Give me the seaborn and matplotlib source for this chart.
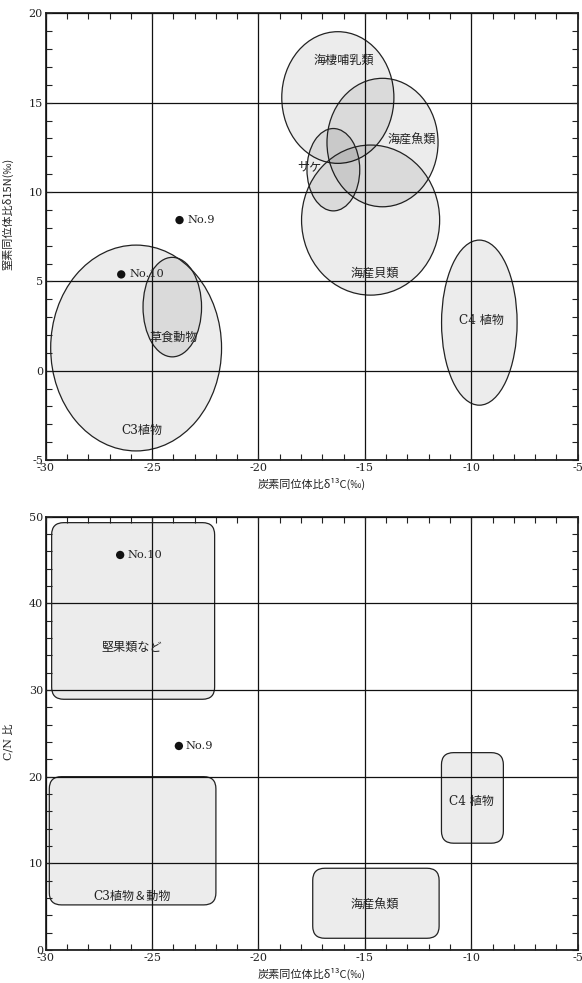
import matplotlib
matplotlib.use("Agg")
import matplotlib.pyplot as plt
from matplotlib.patches import Ellipse, FancyBboxPatch
from matplotlib.ticker import MultipleLocator, FuncFormatter
import pandas as pd
import seaborn as sns

# --- top chart: d13C vs d15N ranges (ellipses) ---
ell_names = ["海棲哺乳類", "海産魚類", "サケ", "海産貝類", "C4 植物", "C3植物", "草食動物"]
ell_cx = [-16.27, -14.17, -16.48, -14.73, -9.62, -25.75, -24.05]
ell_cy = [15.29, 12.77, 11.25, 8.43, 2.69, 1.27, 3.56]
ell_w = [5.27, 5.22, 2.48, 6.49, 3.55, 8.03, 2.75]
ell_h = [7.37, 7.19, 4.61, 8.40, 9.24, 11.52, 5.57]
ell_lx = [-16.01, -12.78, -17.61, -14.55, -9.51, -25.47, -23.98]
ell_ly = [17.39, 12.91, 11.41, 5.48, 2.79, -3.33, 1.86]

top_samples = ["No.9", "No.10"]
top_d13c = [-23.71, -26.45]
top_d15n = [8.43, 5.39]

# --- bottom chart: d13C vs C/N ranges (boxes) ---
box_names = ["堅果類など", "C3植物＆動物", "C4 植物", "海産魚類"]
box_x0 = [-29.72, -29.83, -11.40, -17.45]
box_x1 = [-22.06, -22.00, -8.49, -11.51]
box_y0 = [28.93, 5.20, 12.32, 1.35]
box_y1 = [49.31, 20.00, 22.77, 9.43]
box_lx = [-25.95, -25.95, -9.99, -14.55]
box_ly = [34.93, 6.24, 17.12, 5.20]

bot_samples = ["No.10", "No.9"]
bot_d13c = [-26.50, -23.74]
bot_cn = [45.58, 23.54]

sns.set_style("ticks")
plt.rcParams["font.family"] = ["DejaVu Serif", "Noto Sans CJK JP"]
plt.rcParams["axes.unicode_minus"] = False

JP = ["Noto Sans CJK JP", "DejaVu Sans"]
MIX = ["DejaVu Serif", "Noto Sans CJK JP"]

fig = plt.figure(figsize=(5.82, 9.83), dpi=100)
ax1 = fig.add_axes([0.0785, 0.532, 0.914, 0.4544])
ax2 = fig.add_axes([0.0785, 0.0336, 0.914, 0.4408])

fmt = FuncFormatter(lambda v, p: "%d" % round(v))


def style_axes(ax, ymin, ymax, ymajor, yminor):
    ax.set_xlim(-30, -5)
    ax.set_ylim(ymin, ymax)
    ax.xaxis.set_major_locator(MultipleLocator(5))
    ax.xaxis.set_minor_locator(MultipleLocator(1))
    ax.yaxis.set_major_locator(MultipleLocator(ymajor))
    ax.yaxis.set_minor_locator(MultipleLocator(yminor))
    ax.xaxis.set_major_formatter(fmt)
    ax.yaxis.set_major_formatter(fmt)
    ax.tick_params(which="both", direction="in", top=True, right=True,
                   length=4.5, width=0.8, color="#222222")
    ax.tick_params(which="major", labelsize=8, pad=2, colors="#222222")
    ax.grid(True, which="major", color="#111111", linewidth=0.9, zorder=3)
    ax.set_axisbelow(False)
    for s in ax.spines.values():
        s.set_linewidth(1.3)
        s.set_color("#222222")
    ax.set_xlabel("炭素同位体比δ¹³C(‰)", fontsize=8, family=JP + ["DejaVu Serif"],
                  labelpad=4, color="#222222")


# top chart
style_axes(ax1, -5, 20, 5, 1)
for cx, cy, w, h in zip(ell_cx, ell_cy, ell_w, ell_h):
    ax1.add_patch(Ellipse((cx, cy), w, h, facecolor=(0, 0, 0, 0.075),
                          edgecolor="#222222", linewidth=0.9, zorder=2))
for name, lx, ly in zip(ell_names, ell_lx, ell_ly):
    ax1.text(lx, ly, name, ha="center", va="center", fontsize=8.7,
             family=MIX, color="#222222", zorder=5)

top_df = pd.DataFrame({"x": top_d13c, "y": top_d15n, "name": top_samples})
sns.scatterplot(data=top_df, x="x", y="y", ax=ax1, color="#111111", s=36,
                edgecolor="none", zorder=6, legend=False)
for _, r in top_df.iterrows():
    ax1.annotate(r["name"], (r["x"], r["y"]), xytext=(6, 0), textcoords="offset points",
                 va="center", fontsize=8.2, color="#222222", zorder=6)
ax1.set_ylabel("窒素同位体比δ15N(‰)", fontsize=8, family=JP, labelpad=6,
               color="#222222")
ax1.yaxis.set_label_coords(-0.06, 0.55)

# bottom chart
style_axes(ax2, 0, 50, 10, 2)
asp = 2.45
for x0, x1, y0, y1 in zip(box_x0, box_x1, box_y0, box_y1):
    ax2.add_patch(FancyBboxPatch((x0, y0), x1 - x0, y1 - y0,
                                 boxstyle="round,pad=0,rounding_size=0.57",
                                 mutation_aspect=asp, facecolor=(0, 0, 0, 0.075),
                                 edgecolor="#222222", linewidth=0.9, zorder=2))
for name, lx, ly in zip(box_names, box_lx, box_ly):
    ax2.text(lx, ly, name, ha="center", va="center", fontsize=8.7,
             family=MIX, color="#222222", zorder=5)

bot_df = pd.DataFrame({"x": bot_d13c, "y": bot_cn, "name": bot_samples})
sns.scatterplot(data=bot_df, x="x", y="y", ax=ax2, color="#111111", s=36,
                edgecolor="none", zorder=6, legend=False)
for _, r in bot_df.iterrows():
    ax2.annotate(r["name"], (r["x"], r["y"]), xytext=(5, 0), textcoords="offset points",
                 va="center", fontsize=8.2, color="#222222", zorder=6)
ax2.set_ylabel("C/N 比", fontsize=8, family=MIX, labelpad=6, color="#222222")
ax2.yaxis.set_label_coords(-0.06, 0.48)

fig.savefig("out.png", dpi=100)
